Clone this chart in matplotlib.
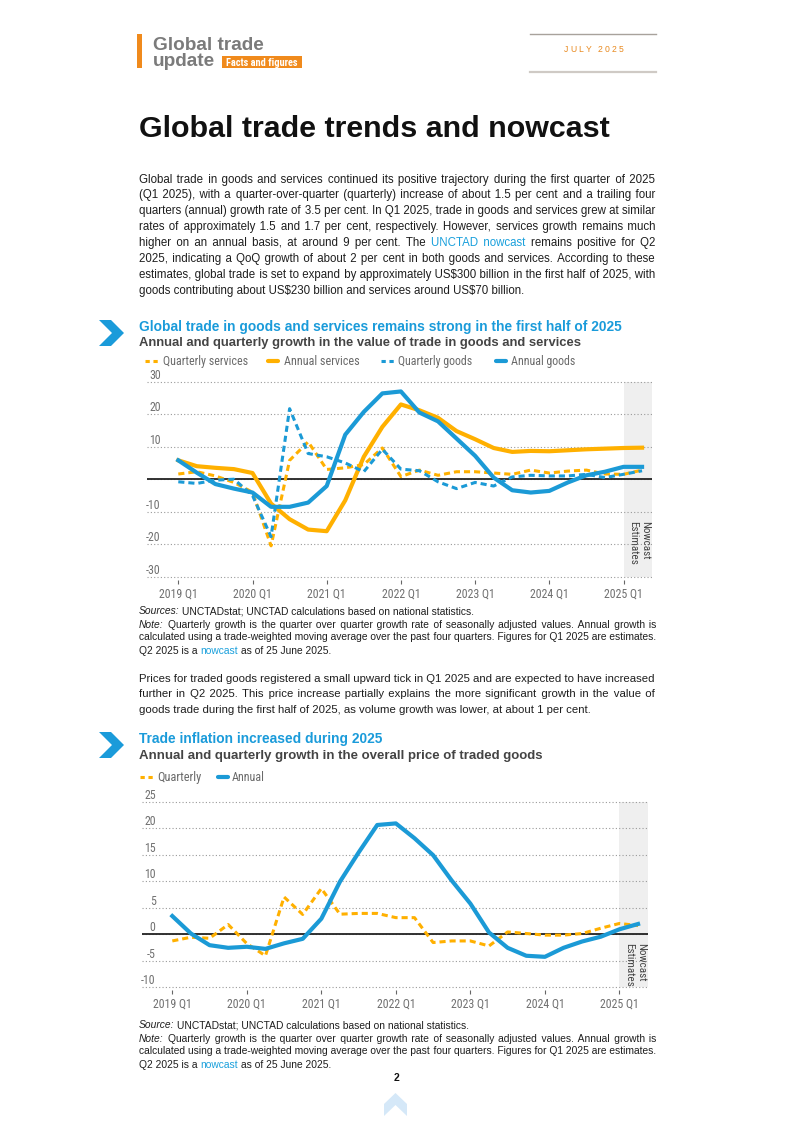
import os
import matplotlib
matplotlib.use('Agg')
import matplotlib.pyplot as plt
from matplotlib import font_manager as fm
from matplotlib.lines import Line2D
from matplotlib.patches import Rectangle, Polygon

W, H = 793, 1121

# ---------------- data ----------------
quarter_ticks = [0, 4, 8, 12, 16, 20, 24]
quarter_labels = ['2019 Q1', '2020 Q1', '2021 Q1', '2022 Q1', '2023 Q1', '2024 Q1', '2025 Q1']
quarters = list(range(26))  # 2019 Q1 .. 2025 Q2

# chart 1: growth in value of trade (%)
q_services = [1.6, 2.3, 1.0, -1.0, -4.0, -20.5, 5.8, 11.5, 3.0, 3.5, 4.5, 9.6, 0.8,
              2.8, 1.2, 2.3, 2.3, 1.9, 1.5, 2.8, 1.9, 2.5, 2.8, 1.6, 1.5, 2.8]
annual_services = [5.8, 4.0, 3.5, 3.1, 1.9, -7.5, -12.3, -15.5, -16.0, -6.5, 6.9, 16.1, 23.0,
                   21.2, 18.9, 14.8, 12.3, 9.6, 8.4, 8.7, 8.6, 8.9, 9.2, 9.4, 9.6, 9.7]
q_goods = [-0.8, -1.3, -0.3, 0.0, -5.0, -17.7, 21.7, 7.9, 6.9, 5.0, 2.3, 9.2, 3.1,
           2.6, -0.8, -2.9, -1.0, -2.1, 0.7, 1.2, 1.0, 1.0, 1.5, 0.5, 1.5, 2.6]
annual_goods = [5.8, 2.0, -1.5, -2.9, -4.1, -8.5, -8.5, -7.2, -2.1, 13.7, 20.7, 26.4, 27.0,
                20.5, 17.8, 12.5, 7.2, 0.5, -3.4, -4.1, -3.6, -1.0, 1.2, 2.3, 3.8, 3.8]
value_grid = [-30, -20, -10, 0, 10, 20, 30]
value_labels = [-30, -20, -10, 10, 20, 30]

# chart 2: growth in price of traded goods (%)
q_price = [-1.3, -0.6, -0.8, 1.8, -1.8, -4.1, 7.0, 3.7, 8.6, 3.75, 3.9, 3.9, 3.1,
           3.1, -1.6, -1.3, -1.3, -2.25, 0.4, 0.1, -0.2, -0.2, 0.1, 1.1, 2.0, 1.6]
annual_price = [3.4, 0.1, -2.1, -2.6, -2.4, -2.8, -1.75, -0.9, 2.9, 9.9, 15.4, 20.6, 20.9,
                18.1, 14.9, 10.1, 5.75, 0.3, -2.6, -4.1, -4.3, -2.6, -1.4, -0.5, 0.9, 1.9]
price_grid = [-10, -5, 0, 5, 10, 15, 20, 25]
price_labels = [-10, -5, 0, 5, 10, 15, 20, 25]

para1 = [
    "Global trade in goods and services continued its positive trajectory during the first quarter of 2025",
    "(Q1 2025), with a quarter-over-quarter (quarterly) increase of about 1.5 per cent and a trailing four",
    "quarters (annual) growth rate of 3.5 per cent. In Q1 2025, trade in goods and services grew at similar",
    "rates of approximately 1.5 and 1.7 per cent, respectively. However, services growth remains much",
    "higher on an annual basis, at around 9 per cent. The *UNCTAD *nowcast remains positive for Q2",
    "2025, indicating a QoQ growth of about 2 per cent in both goods and services. According to these",
    "estimates, global trade is set to expand by approximately US$300 billion in the first half of 2025, with",
    "goods contributing about US$230 billion and services around US$70 billion.",
]
para2 = [
    "Prices for traded goods registered a small upward tick in Q1 2025 and are expected to have increased",
    "further in Q2 2025. This price increase partially explains the more significant growth in the value of",
    "goods trade during the first half of 2025, as volume growth was lower, at about 1 per cent.",
]
note = [
    "_Note: Quarterly growth is the quarter over quarter growth rate of seasonally adjusted values. Annual growth is",
    "calculated using a trade-weighted moving average over the past four quarters. Figures for Q1 2025 are estimates.",
    "Q2 2025 is a *nowcast as of 25 June 2025.",
]

# ---------------- style ----------------
FONT = 'Liberation Sans'
BODY = ['Liberation Sans', 'DejaVu Sans']
ORANGE = '#FFB000'
BLUE = '#1B9AD6'
TITLE_BLUE = '#1A9BDA'
LINK = '#1AA0DC'
TEXT = '#1e1e1e'
GREY = '#707070'
HEAD_ORANGE = '#F08A1C'


def condensed_font(bold):
    best = None
    for f in fm.fontManager.ttflist:
        n = f.name
        base = os.path.basename(f.fname)
        cond = ('Narrow' in n or 'Condensed' in n or 'Condensed' in base or 'Narrow' in base
                or f.stretch in ('condensed', 'semi-condensed'))
        if not cond or f.style != 'normal' or 'Mono' in n or 'CJK' in n:
            continue
        wt = f.weight if isinstance(f.weight, (int, float)) else fm.weight_dict.get(f.weight, 400)
        rank = 0 if 'Liberation' in n else 1 if 'Roboto' in n else 2 if 'Noto' in n else 3 if 'DejaVu' in n else 4
        if 'Extra' in base or 'Ultra' in base or 'Semi' in base:
            rank += 0.5
        score = (rank, abs(wt - (700 if bold else 400)))
        if best is None or score < best[0]:
            best = (score, f.fname)
    if best is None:
        return None
    return fm.FontProperties(fname=best[1])


NARROW = condensed_font(False)
NARROW_B = condensed_font(True)
HAVE_NARROW = NARROW is not None
if NARROW is None:
    NARROW = fm.FontProperties(family=FONT)
if NARROW_B is None:
    NARROW_B = fm.FontProperties(family=FONT, weight='bold')
SMALL = 8.6 if HAVE_NARROW else 7

fig = plt.figure(figsize=(W / 100, H / 100), dpi=100)
fig.patch.set_facecolor('white')


def fy(y):
    return 1 - y / H


def esc(s):
    return s.replace('$', r'\$')


def width(t):
    return t.get_window_extent(fig.canvas.get_renderer()).width


def fit_text(x, y, s, w, **kw):
    t = fig.text(x / W, fy(y), s, va='baseline', **kw)
    t.set_fontsize(10)
    t.set_fontsize(10 * w / width(t))
    return t


def tw(s, fs, st='normal'):
    t = fig.text(0, 0, esc(s), fontsize=fs, style=st, family=BODY)
    v = width(t)
    t.remove()
    return v


def paragraph(lines, x0, x1, base0, dy, fs=None, color=TEXT):
    parsed = []
    for line in lines:
        words = []
        for w in line.split(' '):
            c, st = color, 'normal'
            if w.startswith('*'):
                w, c = w[1:], LINK
            if w.startswith('_'):
                w, st = w[1:], 'italic'
            words.append((w, c, st))
        parsed.append(words)
    target = x1 - x0
    if fs is None:
        sp10 = tw('a a', 10) - tw('aa', 10)
        fits = []
        for words in parsed[:-1]:
            tot = sum(tw(w, 10, st) for w, c, st in words) + sp10 * (len(words) - 1)
            fits.append(10 * target / tot)
        fs = min(fits)
    sp = tw('a a', fs) - tw('aa', fs)
    pad = '\u200a'
    hs = tw('a' + pad + 'a', fs) - tw('aa', fs)
    if hs < 0.3:
        pad = '\u2009'
        hs = tw('a' + pad + 'a', fs) - tw('aa', fs)
    for k, words in enumerate(parsed):
        y = fy(base0 + k * dy)
        n = len(words)
        ws = [tw(w, fs, st) for w, c, st in words]
        justify = k < len(parsed) - 1 and n > 1 and hs > 0.3
        counts = [0] * max(n - 1, 0)
        if justify:
            extra = target - sum(ws) - sp * (n - 1)
            total = max(0, int(round(extra / hs)))
            counts = [round(total * (j + 1) / (n - 1)) - round(total * j / (n - 1)) for j in range(n - 1)]
        runs = []
        for j, (w, c, st) in enumerate(words):
            if runs and runs[-1][2] == c and runs[-1][3] == st:
                runs[-1][1] += ' ' + pad * counts[j - 1] + w
            else:
                runs.append([j, w, c, st])
        for idx, (j, s, c, st) in enumerate(runs):
            xj = x0 + sum(ws[:j]) + sum(sp + counts[i] * hs for i in range(j))
            if justify and idx == len(runs) - 1 and len(runs) > 1:
                fig.text(x1 / W, y, esc(s), ha='right', va='baseline', fontsize=fs, color=c,
                         style=st, family=BODY)
            else:
                fig.text(xj / W, y, esc(s), ha='left', va='baseline', fontsize=fs, color=c,
                         style=st, family=BODY)
    return fs


def fpoly(pts, color):
    fig.add_artist(Polygon([(x / W, fy(y)) for x, y in pts], closed=True,
                           transform=fig.transFigure, facecolor=color, lw=0))


def frect(x0, y0, x1, y1, color):
    fig.add_artist(Rectangle((x0 / W, fy(y1)), (x1 - x0) / W, (y1 - y0) / H,
                             transform=fig.transFigure, facecolor=color, lw=0))


def fline(x0, x1, y, color, lw, **kw):
    fig.add_artist(Line2D([x0 / W, x1 / W], [fy(y), fy(y)], transform=fig.transFigure,
                          color=color, lw=lw, **kw))


def legend_item(xl, xt, xe, y, color, dashed, label):
    if dashed:
        fline(xl, xl + 12.5, y, color, 2.2, dashes=(1.4, 1.2), dash_capstyle='butt')
    else:
        fline(xl + 1.5, xl + 11.5, y, color, 3.0, solid_capstyle='round')
    fit_text(xt, y + 4, label, xe - xt, fontproperties=NARROW, color='#6a6a6a')


# ---------------- page header ----------------
frect(137, 34, 142, 68, HEAD_ORANGE)
t = fit_text(153, 49.5, 'Global trade', 111, family=FONT, weight='bold', color='#7b7b7b')
fig.text(153 / W, fy(66), 'update', fontsize=t.get_fontsize(), family=FONT, weight='bold',
         color='#7b7b7b', va='baseline')
frect(222, 56, 302, 68, HEAD_ORANGE)
fit_text(226, 65.5, 'Facts and figures', 72, fontproperties=NARROW_B, color='white')

fline(530, 656, 34, '#a8a29c', 1.0)
fline(530, 656, 71.5, '#cfcac5', 1.6)
x = 564
for ch in 'JULY 2025':
    tt = fig.text(x / W, fy(51.5), ch, fontsize=6.2, family=FONT, color='#E8891E', va='baseline')
    x += width(tt) + 2.1

# ---------------- title and text ----------------
fit_text(139, 137, 'Global trade trends and nowcast', 472, family=FONT, weight='bold', color='#111111')
paragraph(para1, 139, 655, 182.5, 15.9)


# ---------------- chart helpers ----------------
def chart_axes(left, right, top_val_px, bot_val_px, vmax, vmin, x0px, qpx, margin):
    ppu = (bot_val_px - top_val_px) / (vmax - vmin)
    top = top_val_px - margin * ppu
    bot = bot_val_px + margin * ppu
    ax = fig.add_axes([left / W, fy(bot), (right - left) / W, (bot - top) / H])
    ax.set_xlim((left - x0px) / qpx, (right - x0px) / qpx)
    ax.set_ylim(vmin - margin, vmax + margin)
    for s in ax.spines.values():
        s.set_visible(False)
    ax.set_facecolor('none')
    return ax


def decorate(ax, grid, labels, vmin, vmax, now_y):
    xr = ax.get_xlim()[1]
    ax.add_patch(Rectangle((24, vmin), xr - 24, vmax - vmin, facecolor='#efefef', lw=0, zorder=0.2))
    for g in grid:
        ax.axhline(g, color='#9a9a9a', lw=0.8, linestyle=(0, (1, 2)), zorder=0.5)
    ax.axhline(0, color='#222222', lw=1.3, zorder=1.5)
    ax.set_yticks([])
    ax.set_xticks(quarter_ticks)
    ax.set_xticklabels(quarter_labels, fontproperties=NARROW, fontsize=SMALL, color=GREY)
    ax.tick_params(axis='x', length=3, width=0.8, color='#666666', pad=2.5)
    xoff = 14 / (ax.get_position().width * W)
    for v in labels:
        ax.text(xoff, v, str(v), transform=ax.get_yaxis_transform(),
                ha='right', va='bottom', fontproperties=NARROW, fontsize=SMALL, color=GREY)
    ax.text(24.85, now_y, 'Nowcast\nEstimates', rotation=270, ha='center', va='top',
            multialignment='left', fontproperties=NARROW, fontsize=SMALL - 0.6, color='#444444')


# ---------------- chart 1 ----------------
fpoly([(99, 320), (111, 320), (124, 333), (111, 346), (99, 346), (112, 333)], TITLE_BLUE)
fit_text(139, 330.5, 'Global trade in goods and services remains strong in the first half of 2025', 484,
         family=FONT, weight='bold', color=TITLE_BLUE)
fit_text(139, 346, 'Annual and quarterly growth in the value of trade in goods and services', 443,
         family=FONT, weight='bold', color='#444444')
legend_item(145, 163, 247, 361, ORANGE, True, 'Quarterly services')
legend_item(266, 284, 359, 361, ORANGE, False, 'Annual services')
legend_item(381, 398, 472, 361, BLUE, True, 'Quarterly goods')
legend_item(494, 511, 575, 361, BLUE, False, 'Annual goods')

ax1 = chart_axes(146.7, 651.7, 381.7, 576.7, 30, -30, 178.3, 18.55, 1.0)
decorate(ax1, value_grid, value_labels, -30, 30, -13.0)
ax1.plot(quarters, q_services, color=ORANGE, lw=2.2, dashes=(2.0, 1.3), zorder=2)
ax1.plot(quarters, annual_services, color=ORANGE, lw=3.0, zorder=2.2, solid_joinstyle='round')
ax1.plot(quarters, q_goods, color=BLUE, lw=2.2, dashes=(2.0, 1.3), zorder=2.4)
ax1.plot(quarters, annual_goods, color=BLUE, lw=3.0, zorder=2.6, solid_joinstyle='round')

nfs = paragraph(note, 139, 656, 627.5, 13.0)
paragraph(["_Sources: UNCTADstat; UNCTAD calculations based on national statistics."],
          139, 656, 614.5, 13.0, fs=nfs)

paragraph(para2, 139, 655, 681.5, 15.9)

# ---------------- chart 2 ----------------
fpoly([(99, 732), (111, 732), (124, 745), (111, 758), (99, 758), (112, 745)], TITLE_BLUE)
fit_text(139, 743, 'Trade inflation increased during 2025', 243,
         family=FONT, weight='bold', color=TITLE_BLUE)
fit_text(139, 758.5, 'Annual and quarterly growth in the overall price of traded goods', 406,
         family=FONT, weight='bold', color='#444444')
legend_item(140, 157, 201, 777, ORANGE, True, 'Quarterly')
legend_item(216, 232, 265, 777, BLUE, False, 'Annual')

ax2 = chart_axes(141.7, 647.7, 801.7, 987.0, 25, -10, 172.3, 18.63, 0.6)
decorate(ax2, price_grid, price_labels, -10, 25, -1.6)
ax2.plot(quarters, q_price, color=ORANGE, lw=2.2, dashes=(2.0, 1.3), zorder=2)
ax2.plot(quarters, annual_price, color=BLUE, lw=3.0, zorder=2.6, solid_joinstyle='round')

nfs2 = paragraph(note, 139, 656, 1041.5, 13.0)
paragraph(["_Source: UNCTADstat; UNCTAD calculations based on national statistics."],
          139, 656, 1028.5, 13.0, fs=nfs2)

# ---------------- footer ----------------
fig.text(396 / W, fy(1081), '2', fontsize=7.5, family=FONT, weight='bold', ha='center',
         va='baseline', color='#111111')
fpoly([(384, 1104), (395.5, 1093), (407, 1104), (407, 1116), (395.5, 1105), (384, 1116)], '#D5E8F8')

fig.savefig('out.png', dpi=100, facecolor='white')
